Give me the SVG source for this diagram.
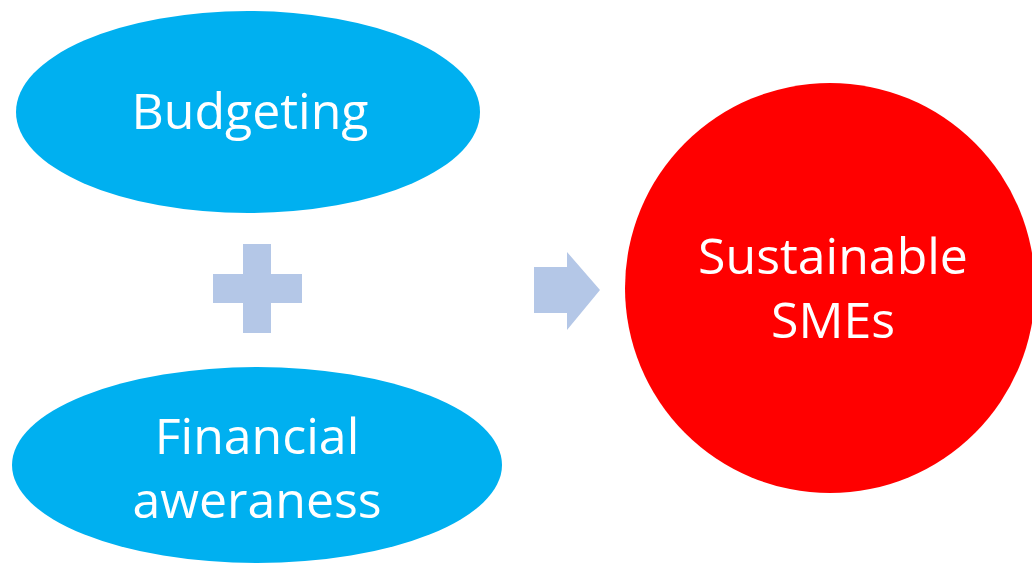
<svg xmlns="http://www.w3.org/2000/svg" width="1032" height="570" viewBox="0 0 1032 570">
<style>
.lbl{font-family:"Open Sans","Noto Sans",sans-serif;font-size:50px;fill:#FFFFFF;text-anchor:middle}
.blue{fill:#00B0F0}
.red{fill:#FF0000}
.conn{fill:#B4C7E7}
</style>
<rect width="1032" height="570" fill="#FFFFFF"/>
<g id="budgeting">
<ellipse class="blue" cx="248" cy="112" rx="232" ry="101"/>
<text class="lbl" x="250" y="129">Budgeting</text>
</g>
<g id="financial-aweraness">
<ellipse class="blue" cx="257" cy="465" rx="245" ry="98"/>
<text class="lbl" x="257" y="454">Financial</text>
<text class="lbl" x="257" y="518">aweraness</text>
</g>
<g id="sustainable-smes">
<circle class="red" cx="830" cy="288" r="205"/>
<text class="lbl" x="833" y="274">Sustainable</text>
<text class="lbl" x="833" y="338">SMEs</text>
</g>
<g id="connectors">
<path class="conn" d="M243,244 H271 V274 H302 V303 H271 V333 H243 V303 H213 V274 H243 Z"/>
<path class="conn" d="M534,267 H567 V252 L600,290 L567,330 V313 H534 Z"/>
</g>
</svg>
